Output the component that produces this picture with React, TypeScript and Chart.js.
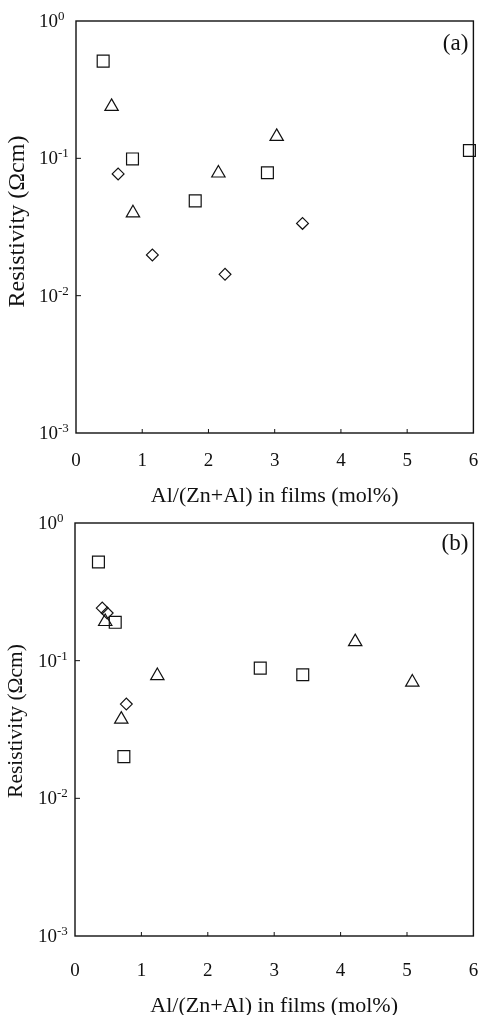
import React, { useEffect, useRef } from "react";
import { Chart, registerables } from "chart.js";

Chart.register(...registerables);

const xTickValues = [0, 1, 2, 3, 4, 5, 6];
const yTickValues = [1, 0.1, 0.01, 0.001];
const yTickExponents = ["0", "-1", "-2", "-3"];
const xTitle = "Al/(Zn+Al) in films (mol%)";
const yTitle = "Resistivity (\u03A9cm)";

// Panel (a)
const aSquareX = [0.41, 0.853, 1.8, 2.89, 5.94];
const aSquareY = [0.51, 0.099, 0.049, 0.0785, 0.114];
const aTriangleX = [0.537, 0.86, 2.15, 3.03];
const aTriangleY = [0.238, 0.04, 0.078, 0.144];
const aDiamondX = [0.636, 1.153, 2.25, 3.42];
const aDiamondY = [0.077, 0.0198, 0.0143, 0.0336];

// Panel (b)
const bSquareX = [0.353, 0.606, 0.736, 2.79, 3.43];
const bSquareY = [0.521, 0.19, 0.0201, 0.0883, 0.079];
const bTriangleX = [0.455, 0.697, 1.24, 4.22, 5.08];
const bTriangleY = [0.192, 0.0375, 0.0777, 0.137, 0.0697];
const bDiamondX = [0.41, 0.485, 0.773];
const bDiamondY = [0.241, 0.222, 0.0484];

const SERIF = '"Liberation Serif", "Times New Roman", serif';

type PanelSpec = {
  label: string;
  height: number;
  padTop: number;
  padRight: number;
  yWidth: number;
  xHeight: number;
  xLabelOffset: number;
  xTitleOffset: number;
  yTitleX: number;
  yTitleY: number;
  yTitleSize: number;
  labelY: number;
  sqX: number[];
  sqY: number[];
  trX: number[];
  trY: number[];
  dmX: number[];
  dmY: number[];
};

const panelA: PanelSpec = {
  label: "(a)",
  height: 507,
  padTop: 21,
  padRight: 8,
  yWidth: 76,
  xHeight: 74,
  xLabelOffset: 28.5,
  xTitleOffset: 63.5,
  yTitleX: 18,
  yTitleY: 221.5,
  yTitleSize: 24,
  labelY: 44,
  sqX: aSquareX,
  sqY: aSquareY,
  trX: aTriangleX,
  trY: aTriangleY,
  dmX: aDiamondX,
  dmY: aDiamondY,
};

const panelB: PanelSpec = {
  label: "(b)",
  height: 508,
  padTop: 16,
  padRight: 7,
  yWidth: 75,
  xHeight: 79,
  xLabelOffset: 35.5,
  xTitleOffset: 70,
  yTitleX: 16.5,
  yTitleY: 214,
  yTitleSize: 21.5,
  labelY: 37,
  sqX: bSquareX,
  sqY: bSquareY,
  trX: bTriangleX,
  trY: bTriangleY,
  dmX: bDiamondX,
  dmY: bDiamondY,
};

const toPoints = (xs: number[], ys: number[]) => xs.map((x, i) => ({ x, y: ys[i] }));

function makeFramePlugin(spec: PanelSpec) {
  return {
    id: "frameAndLabels",
    afterDraw(chart: any) {
      const { ctx, chartArea: ca, scales } = chart;
      const xs = scales.x;
      const ys = scales.y;
      ctx.save();
      ctx.strokeStyle = "#111";
      ctx.fillStyle = "#111";
      ctx.lineWidth = 1.4;
      ctx.strokeRect(ca.left, ca.top, ca.right - ca.left, ca.bottom - ca.top);

      // inward ticks
      ctx.lineWidth = 1;
      ctx.beginPath();
      xTickValues.forEach((v) => {
        if (v === xTickValues[0] || v === xTickValues[xTickValues.length - 1]) return;
        const px = xs.getPixelForValue(v);
        ctx.moveTo(px, ca.bottom);
        ctx.lineTo(px, ca.bottom - 4);
      });
      yTickValues.forEach((v, i) => {
        if (i === 0 || i === yTickValues.length - 1) return;
        const py = ys.getPixelForValue(v);
        ctx.moveTo(ca.left, py);
        ctx.lineTo(ca.left + 5, py);
      });
      ctx.stroke();

      // x tick labels
      ctx.font = `19px ${SERIF}`;
      ctx.textAlign = "center";
      ctx.textBaseline = "middle";
      xTickValues.forEach((v) => {
        const px = xs.getPixelForValue(v);
        ctx.fillText(String(v), px, ca.bottom + spec.xLabelOffset);
      });

      // y tick labels 10^n
      yTickValues.forEach((v, i) => {
        const py = ys.getPixelForValue(v);
        ctx.font = `19px ${SERIF}`;
        ctx.textAlign = "right";
        ctx.textBaseline = "middle";
        ctx.fillText("10", ca.left - 18, py + 1);
        ctx.font = `13px ${SERIF}`;
        ctx.textAlign = "left";
        ctx.textBaseline = "alphabetic";
        ctx.fillText(yTickExponents[i], ca.left - 18, py - 1);
      });

      // x title
      ctx.font = `22px ${SERIF}`;
      ctx.textAlign = "center";
      ctx.textBaseline = "middle";
      ctx.fillText(xTitle, (ca.left + ca.right) / 2, ca.bottom + spec.xTitleOffset);

      // y title
      ctx.save();
      ctx.translate(spec.yTitleX, spec.yTitleY);
      ctx.rotate(-Math.PI / 2);
      ctx.font = `${spec.yTitleSize}px ${SERIF}`;
      ctx.textAlign = "center";
      ctx.textBaseline = "middle";
      ctx.fillText(yTitle, 0, 0);
      ctx.restore();

      // panel label
      ctx.font = `23px ${SERIF}`;
      ctx.textAlign = "right";
      ctx.textBaseline = "middle";
      ctx.fillText(spec.label, ca.right - 5, spec.labelY);
      ctx.restore();
    },
  };
}

function Panel({ spec }: { spec: PanelSpec }) {
  const ref = useRef<HTMLCanvasElement | null>(null);
  useEffect(() => {
    if (!ref.current) return;
    const common = {
      showLine: false,
      borderColor: "#111",
      backgroundColor: "rgba(255,255,255,0)",
      borderWidth: 1.2,
      clip: false as any,
    };
    const chart = new Chart(ref.current, {
      type: "scatter",
      data: {
        datasets: [
          { ...common, label: "square", data: toPoints(spec.sqX, spec.sqY), pointStyle: "rect", pointRadius: 8.4 },
          { ...common, label: "triangle", data: toPoints(spec.trX, spec.trY), pointStyle: "triangle", pointRadius: 7.7 },
          { ...common, label: "diamond", data: toPoints(spec.dmX, spec.dmY), pointStyle: "rectRot", pointRadius: 5.9 },
        ],
      },
      options: {
        responsive: false,
        animation: false,
        events: [],
        layout: { padding: { top: spec.padTop, right: spec.padRight, left: 0, bottom: 0 } },
        plugins: { legend: { display: false }, tooltip: { enabled: false } },
        scales: {
          x: {
            type: "linear",
            min: 0,
            max: 6,
            grid: { display: false },
            border: { display: false },
            ticks: { display: false },
            afterFit: (s: any) => {
              s.height = spec.xHeight;
            },
          },
          y: {
            type: "logarithmic",
            min: 0.001,
            max: 1,
            grid: { display: false },
            border: { display: false },
            ticks: { display: false },
            afterFit: (s: any) => {
              s.width = spec.yWidth;
            },
          },
        },
      },
      plugins: [makeFramePlugin(spec)],
    } as any);
    return () => chart.destroy();
  }, [spec]);
  return <canvas ref={ref} width={483} height={spec.height} style={{ display: "block" }} />;
}

export default function App() {
  return (
    <div style={{ position: "absolute", left: 0, top: 0, width: 483, height: 1015, background: "#fff" }}>
      <Panel spec={panelA} />
      <Panel spec={panelB} />
    </div>
  );
}
